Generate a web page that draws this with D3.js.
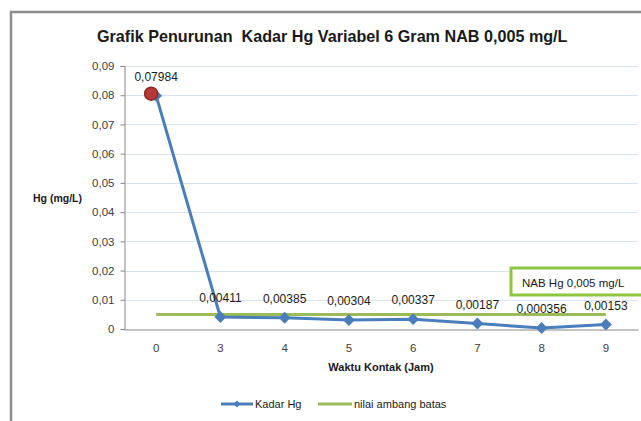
<!DOCTYPE html>
<html>
<head>
<meta charset="utf-8">
<script src="https://cdn.jsdelivr.net/npm/d3@7"></script>
<style>
  html, body { margin: 0; padding: 0; background: #ffffff; }
  svg { display: block; }
  text { font-family: "Liberation Sans", Arial, sans-serif; }
</style>
</head>
<body>
<svg id="chart" width="641" height="421"></svg>
<script>
// ---- data ----
const categories = ["0", "3", "4", "5", "6", "7", "8", "9"];
const kadarHg = [0.07984, 0.00411, 0.00385, 0.00304, 0.00337, 0.00187, 0.000356, 0.00153];
const kadarLabels = ["0,07984", "0,00411", "0,00385", "0,00304", "0,00337", "0,00187", "0,000356", "0,00153"];
const nilaiAmbang = [0.005, 0.005, 0.005, 0.005, 0.005, 0.005, 0.005, 0.005];
const yTicks = [0, 0.01, 0.02, 0.03, 0.04, 0.05, 0.06, 0.07, 0.08, 0.09];
const yTickLabels = ["0", "0,01", "0,02", "0,03", "0,04", "0,05", "0,06", "0,07", "0,08", "0,09"];
const titleText = "Grafik Penurunan  Kadar Hg Variabel 6 Gram NAB 0,005 mg/L";
const xTitle = "Waktu Kontak (Jam)";
const yTitle = "Hg (mg/L)";
const seriesNames = ["Kadar Hg", "nilai ambang batas"];
const boxText = "NAB Hg 0,005 mg/L";

// ---- layout ----
const svg = d3.select("#chart");
const plot = { left: 124, right: 638, top: 66, bottom: 329 };
const blue = "#4a7ebb", green = "#9bbb59";

// frame
svg.append("path")
  .attr("d", `M11,421 L11,12 L641,12`)
  .attr("fill", "none").attr("stroke", "#8c8c8c").attr("stroke-width", 2.5);

// title
const title = svg.append("text")
  .attr("x", 97).attr("y", 42)
  .attr("font-weight", "bold").attr("font-size", 17).attr("fill", "#1a1a1a")
  .style("white-space", "pre")
  .text(titleText);
const tw = title.node().getComputedTextLength();
title.attr("font-size", 17 * 471 / tw);

// scales
const x = d3.scaleBand().domain(categories).range([plot.left, plot.right]);
const y = d3.scaleLinear().domain([0, 0.09]).range([plot.bottom, plot.top]);
const cx = c => x(c) + x.bandwidth() / 2;

// gridlines
svg.append("g").selectAll("line").data(yTicks.filter(t => t > 0)).join("line")
  .attr("x1", plot.left).attr("x2", plot.right)
  .attr("y1", d => Math.round(y(d)) + 0.5).attr("y2", d => Math.round(y(d)) + 0.5)
  .attr("stroke", "#dbe3ef").attr("stroke-width", 1);

// y axis
const yAxis = svg.append("g")
  .attr("transform", `translate(${plot.left + 0.5},0)`)
  .call(d3.axisLeft(y).tickValues(yTicks).tickSize(4).tickPadding(6)
    .tickFormat((d, i) => yTickLabels[i]));
yAxis.select(".domain").attr("stroke", "#868686");
yAxis.selectAll(".tick line").attr("stroke", "#868686");
yAxis.selectAll(".tick text").attr("font-size", 11.5).attr("fill", "#404040")
  .attr("font-family", "Liberation Sans, Arial, sans-serif");

// x axis
const xAxis = svg.append("g")
  .attr("transform", `translate(0,${Math.round(plot.bottom) + 0.5})`)
  .call(d3.axisBottom(x).tickSize(0).tickPadding(14));
xAxis.select(".domain").attr("stroke", "#868686");
xAxis.selectAll(".tick text").attr("font-size", 11.5).attr("fill", "#404040")
  .attr("font-family", "Liberation Sans, Arial, sans-serif");

// axis titles
svg.append("text").attr("x", 381).attr("y", 371).attr("text-anchor", "middle")
  .attr("font-weight", "bold").attr("font-size", 11).attr("fill", "#1a1a1a").text(xTitle);
svg.append("text").attr("x", 33).attr("y", 202)
  .attr("font-weight", "bold").attr("font-size", 10.5).attr("fill", "#1a1a1a").text(yTitle);

// NAB box
svg.append("rect").attr("x", 511).attr("y", 268).attr("width", 140).attr("height", 27)
  .attr("fill", "#ffffff").attr("stroke", "#8cc63e").attr("stroke-width", 3);
svg.append("text").attr("x", 522).attr("y", 287).attr("font-size", 11.5).attr("fill", "#1a1a1a").text(boxText);

// green threshold line
svg.append("path")
  .datum(nilaiAmbang)
  .attr("d", d3.line().x((d, i) => cx(categories[i])).y(d => y(d)))
  .attr("fill", "none").attr("stroke", green).attr("stroke-width", 3);

// blue series line
svg.append("path")
  .datum(kadarHg)
  .attr("d", d3.line().x((d, i) => cx(categories[i])).y(d => y(d)))
  .attr("fill", "none").attr("stroke", blue).attr("stroke-width", 3)
  .attr("stroke-linejoin", "round");

// diamond markers
const diamond = d3.symbol().type(d3.symbolDiamond2).size(90);
svg.append("g").selectAll("path").data(kadarHg).join("path")
  .attr("d", diamond)
  .attr("transform", (d, i) => `translate(${cx(categories[i])},${y(d)})`)
  .attr("fill", blue);

// highlighted first point
svg.append("circle")
  .attr("cx", cx(categories[0]) - 5).attr("cy", y(kadarHg[0]) - 2).attr("r", 6.5)
  .attr("fill", "#b53a37").attr("stroke", "#8a2a28").attr("stroke-width", 1.5);

// data labels
svg.append("g").selectAll("text").data(kadarHg).join("text")
  .attr("x", (d, i) => cx(categories[i]))
  .attr("y", d => y(d) - 15)
  .attr("text-anchor", "middle").attr("font-size", 12).attr("fill", "#1a1a1a")
  .text((d, i) => kadarLabels[i]);

// legend
const lg = svg.append("g");
lg.append("line").attr("x1", 221).attr("x2", 253).attr("y1", 404).attr("y2", 404)
  .attr("stroke", blue).attr("stroke-width", 3);
lg.append("path").attr("d", d3.symbol().type(d3.symbolDiamond2).size(30))
  .attr("transform", "translate(237,404)").attr("fill", blue);
lg.append("text").attr("x", 255).attr("y", 408).attr("font-size", 11).attr("fill", "#1a1a1a").text(seriesNames[0]);
lg.append("line").attr("x1", 318).attr("x2", 352).attr("y1", 404).attr("y2", 404)
  .attr("stroke", green).attr("stroke-width", 3);
lg.append("text").attr("x", 354).attr("y", 408).attr("font-size", 11).attr("fill", "#1a1a1a").text(seriesNames[1]);
</script>
</body>
</html>
